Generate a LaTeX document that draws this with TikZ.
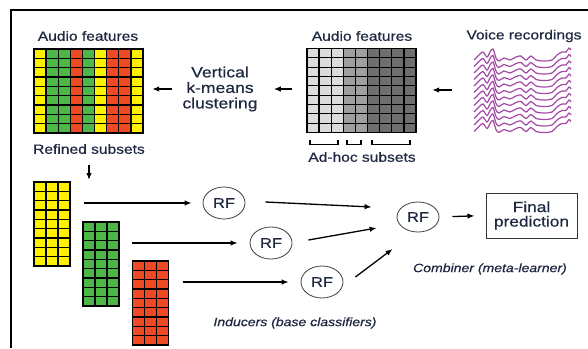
\documentclass[tikz,border=0pt]{standalone}
\usepackage{fontspec}
\setmainfont{Liberation Sans}[FakeStretch=1.17,FakeBold=0.5]
\usetikzlibrary{arrows.meta,shapes.geometric,calc}

\definecolor{ink}{HTML}{1E2840}
\definecolor{fyel}{HTML}{FFF000}
\definecolor{fgrn}{HTML}{4DB848}
\definecolor{fred}{HTML}{EE4B25}
\definecolor{glight}{HTML}{DCDCDC}
\definecolor{gmid}{HTML}{A0A0A0}
\definecolor{gdark}{HTML}{6E6E6E}
\definecolor{wavec}{HTML}{A449A6}

% feature matrix: left, top, cell width, cell height, number of columns, column colours
\newcommand\featgrid[6]{%
  \foreach \cc [count=\i from 0] in {#6}
    \fill[\cc] ({#1+\i*#3},#2) rectangle ++(#3,{9*#4});
  \foreach \i in {0,...,#5}
    \draw[gridline] ({#1+\i*#3},#2) -- ++(0,{9*#4});
  \foreach \j in {0,...,9}
    \draw[gridline] (#1,{#2+\j*#4}) -- ++({#5*#3},0);
}

\begin{document}
\begin{tikzpicture}[x=1pt,y=-1pt,
  gridline/.style={black,line width=1.25pt,line cap=rect},
  lbl/.style={text=ink,inner sep=0pt,font=\fontsize{13.3}{15}\selectfont},
  biglbl/.style={text=ink,inner sep=0pt,align=center,font=\fontsize{15}{15.5}\selectfont},
  note/.style={text=ink,inner sep=0pt,font=\fontsize{12}{14}\selectfont\itshape},
  rfnode/.style={ellipse,draw=black!75,line width=0.8pt,minimum width=42pt,
    minimum height=32pt,inner sep=0pt,text=ink,font=\fontsize{14}{16}\selectfont},
  finalbox/.style={draw=black!80,line width=1pt,minimum width=91pt,minimum height=45pt,
    inner sep=0pt,align=center,text=ink,font=\fontsize{14.8}{14.5}\selectfont},
  area/.style={rectangle,inner sep=0pt},
  arr/.style={line width=1.3pt,-{Latex[length=7pt,width=5.5pt]}},
  brk/.style={line width=1.4pt,black},
  wave/.style={wavec,line width=1.2pt}]

\fill[white] (0,0) rectangle (588,348);
\useasboundingbox (0,0) rectangle (588,348);

% frame edges
\draw[line width=2pt] (10,10) -- (588,10);
\draw[line width=2pt] (11,9) -- (11,348);

% refined (clustered) feature matrix
\node[area,minimum width=109pt,minimum height=84pt] (cgrid) at (88.5,91) {};
\featgrid{34}{49}{12.111}{9.333}{9}{fyel,fgrn,fgrn,fred,fgrn,fyel,fred,fred,fyel}

% raw feature matrix
\node[area,minimum width=109pt,minimum height=84pt] (ggrid) at (361.5,90.5) {};
\featgrid{307}{48.5}{12.111}{9.333}{9}{glight,glight,glight,gmid,gmid,gdark,gdark,gdark,gdark}

% ad-hoc subset brackets
\draw[brk] (310,139.5) -- (310,144.5) -- (338,144.5) -- (338,139.5);
\draw[brk] (347,139.5) -- (347,144.5) -- (361,144.5) -- (361,139.5);
\draw[brk] (372,139.5) -- (372,144.5) -- (410,144.5) -- (410,139.5);

% voice recordings
\node[area,minimum width=107pt,minimum height=84pt] (voice) at (521,90) {};
\foreach \k in {0,...,11}
  \draw[wave,shift={(0,\k*6.5)}] plot[smooth,tension=0.55] coordinates {
    (474,60) (479,55) (483,52) (487,57) (490,52) (493,49) (496,58) (499,61)
    (504,58) (510,60) (516,57) (521,56) (526,60) (531,56) (536,60) (544,61)
    (552,60) (557,55) (562,52) (566,52) (569,48) (571,50)};

% labels
\node[lbl] (cfeat) at (88,36) {Audio features};
\node[lbl] (gfeat) at (362,36) {Audio features};
\node[lbl] (voicelbl) at (524,36) {Voice recordings};
\node[lbl] (adhoc) at (362,157) {Ad-hoc subsets};
\node[lbl] (refined) at (89,149) {Refined subsets};
\node[biglbl] (vkm) at (220,89) {Vertical\\k-means\\clustering};

% top row arrows
\draw[arr,shorten <=15.5pt,shorten >=16pt] (voice.west) -- (voice.west -| ggrid.east);
\draw[arr,shorten <=15pt,shorten >=16pt] (ggrid.west |- vkm) -- (vkm.east);
\draw[arr,shorten <=10pt,shorten >=9pt] (vkm.west) -- (vkm.west -| cgrid.east);
\draw[arr,shorten <=11pt,shorten >=2pt] (refined.south) -- (refined.south |- 0,182);

% subset matrices
\node[area,minimum width=36pt,minimum height=84pt] (ygrid) at (52,224) {};
\featgrid{34}{182}{12}{9.333}{3}{fyel,fyel,fyel}
\node[area,minimum width=36pt,minimum height=84pt] (ngrid) at (101,264) {};
\featgrid{83}{222}{12}{9.333}{3}{fgrn,fgrn,fgrn}
\node[area,minimum width=36pt,minimum height=84pt] (rgrid) at (150.5,303) {};
\featgrid{132.5}{261}{12}{9.333}{3}{fred,fred,fred}

% classifiers
\node[rfnode] (rf1) at (224,203) {RF};
\node[rfnode] (rf2) at (271,243) {RF};
\node[rfnode] (rf3) at (322,282) {RF};
\node[rfnode,minimum height=30pt] (comb) at (418,217) {RF};
\node[finalbox] (final) at (531.5,215.5) {Final\\prediction};

\draw[arr,shorten <=14pt,shorten >=11pt] (ygrid.east |- rf1) -- (rf1.west);
\draw[arr,shorten <=13pt,shorten >=12pt] (ngrid.east |- rf2) -- (rf2.west);
\draw[arr,shorten <=14pt,shorten >=12pt] (rgrid.east |- rf3) -- (rf3.west);

\draw[arr] ($(rf1.east)+(20,-1)$) -- ($(comb.west)+(-25,-10)$);
\draw[arr] ($(rf2.east)+(16,-3)$) -- ($(comb.west)+(-20,11)$);
\draw[arr] ($(rf3.east)+(12,-5)$) -- ($(comb.west)+(-4,32)$);
\draw[arr,shorten <=13pt,shorten >=11pt] (comb.east) -- (final.west);

\node[note] (comblbl) at (490,269) {Combiner (meta-learner)};
\node[note] (indlbl) at (295,323) {Inducers (base classifiers)};

\end{tikzpicture}
\end{document}
